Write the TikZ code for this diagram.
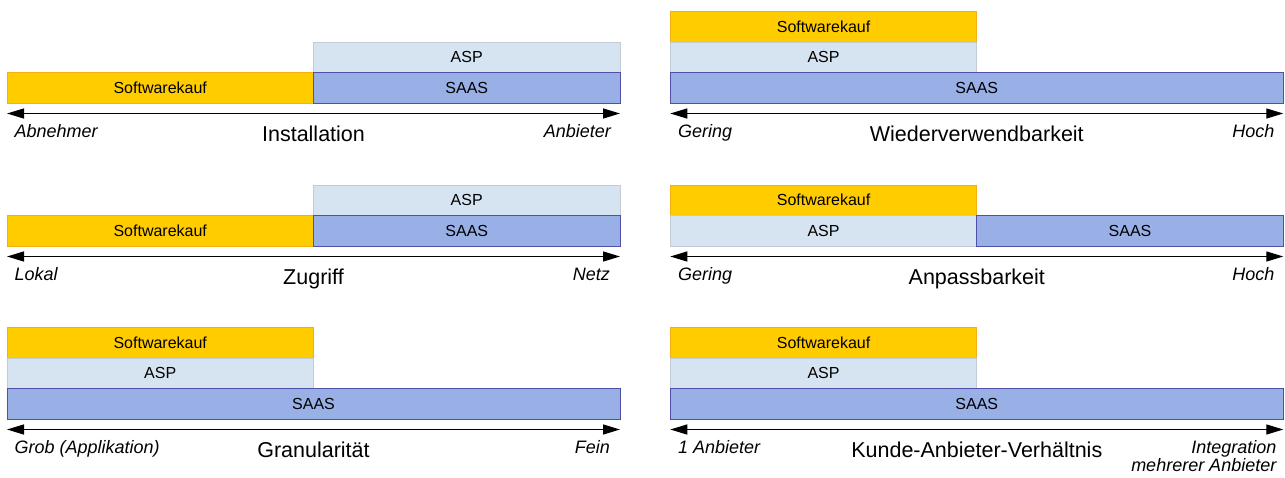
\documentclass[tikz,border=0pt]{standalone}
\usepackage{fontspec}
\setmainfont{Liberation Sans}
\usetikzlibrary{arrows.meta}
\definecolor{swkfill}{RGB}{255,204,0}
\definecolor{swkdraw}{RGB}{245,175,20}
\definecolor{aspfill}{RGB}{214,227,240}
\definecolor{aspdraw}{RGB}{195,203,212}
\definecolor{saasfill}{RGB}{152,176,230}
\definecolor{saasdraw}{RGB}{80,80,168}
\begin{document}
\begin{tikzpicture}[x=1pt,y=-1pt,
  box/.style={minimum height=30.5pt, inner sep=0pt, outer sep=0pt, anchor=north west, line width=0.9pt, font=\fontsize{16}{19}\selectfont},
  swk/.style={box, fill=swkfill, draw=swkdraw},
  asp/.style={box, fill=aspfill, draw=aspdraw},
  saas/.style={box, fill=saasfill, draw=saasdraw},
  half/.style={minimum width=306.5pt},
  full/.style={minimum width=613pt},
  axis/.style={line width=1.3pt, {Triangle[length=17pt,width=10pt]}-{Triangle[length=17pt,width=10pt]}},
  endlbl/.style={font=\fontsize{18}{18}\selectfont\itshape, inner sep=0pt},
  lolbl/.style={endlbl, anchor=base west},
  hilbl/.style={endlbl, anchor=base east},
  title/.style={font=\fontsize{21.5}{26}\selectfont, inner sep=0pt, anchor=base}]
\path[use as bounding box] (0,0) rectangle (1285,477);

% ---- Row 1 left: Installation
\node[asp,half] (asp1) at (313.5,42) {ASP};
\node[swk,half] (swk1) at (7,72.5) {Softwarekauf};
\node[saas,half] (saas1) at (313.5,72.5) {SAAS};
\coordinate (l1) at (7,113.5);
\coordinate (r1) at (620,113.5);
\draw[axis] (l1) -- (r1);
\node[lolbl] (lo1) at (14.5,137.5) {Abnehmer};
\node[hilbl] (hi1) at (611,137.5) {Anbieter};
\node[title] (t1) at (313.5,141.5) {Installation};

% ---- Row 1 right: Wiederverwendbarkeit
\node[swk,half] (swk2) at (670.3,11.5) {Softwarekauf};
\node[asp,half] (asp2) at (670.3,42) {ASP};
\node[saas,full] (saas2) at (670.3,72.5) {SAAS};
\coordinate (l2) at (670.3,113.5);
\coordinate (r2) at (1283.3,113.5);
\draw[axis] (l2) -- (r2);
\node[lolbl] (lo2) at (678,137.5) {Gering};
\node[hilbl] (hi2) at (1274.5,137.5) {Hoch};
\node[title] (t2) at (976.8,141.5) {Wiederverwendbarkeit};

% ---- Row 2 left: Zugriff
\node[asp,half] (asp3) at (313.5,185) {ASP};
\node[swk,half] (swk3) at (7,215.5) {Softwarekauf};
\node[saas,half] (saas3) at (313.5,215.5) {SAAS};
\coordinate (l3) at (7,256.5);
\coordinate (r3) at (620,256.5);
\draw[axis] (l3) -- (r3);
\node[lolbl] (lo3) at (14.5,280.5) {Lokal};
\node[hilbl] (hi3) at (610,280.5) {Netz};
\node[title] (t3) at (313.5,284.5) {Zugriff};

% ---- Row 2 right: Anpassbarkeit
\node[swk,half] (swk4) at (670.3,185) {Softwarekauf};
\node[asp,half] (asp4) at (670.3,215.5) {ASP};
\node[saas,half] (saas4) at (976.8,215.5) {SAAS};
\coordinate (l4) at (670.3,256.5);
\coordinate (r4) at (1283.3,256.5);
\draw[axis] (l4) -- (r4);
\node[lolbl] (lo4) at (678,280.5) {Gering};
\node[hilbl] (hi4) at (1274.5,280.5) {Hoch};
\node[title] (t4) at (976.8,284.5) {Anpassbarkeit};

% ---- Row 3 left: Granularitaet
\node[swk,half] (swk5) at (7,327.5) {Softwarekauf};
\node[asp,half] (asp5) at (7,358) {ASP};
\node[saas,full] (saas5) at (7,388.5) {SAAS};
\coordinate (l5) at (7,429.5);
\coordinate (r5) at (620,429.5);
\draw[axis] (l5) -- (r5);
\node[lolbl] (lo5) at (14.5,453.5) {Grob (Applikation)};
\node[hilbl] (hi5) at (610,453.5) {Fein};
\node[title] (t5) at (313.5,457.5) {Granularität};

% ---- Row 3 right: Kunde-Anbieter-Verhaeltnis
\node[swk,half] (swk6) at (670.3,327.5) {Softwarekauf};
\node[asp,half] (asp6) at (670.3,358) {ASP};
\node[saas,full] (saas6) at (670.3,388.5) {SAAS};
\coordinate (l6) at (670.3,429.5);
\coordinate (r6) at (1283.3,429.5);
\draw[axis] (l6) -- (r6);
\node[lolbl] (lo6) at (678,453.5) {1 Anbieter};
\node[endlbl, anchor=north east, align=right] (hi6) at (1276.5,440.6) {Integration\\mehrerer Anbieter};
\node[title] (t6) at (976.8,457.5) {Kunde-Anbieter-Verhältnis};
\end{tikzpicture}
\end{document}
